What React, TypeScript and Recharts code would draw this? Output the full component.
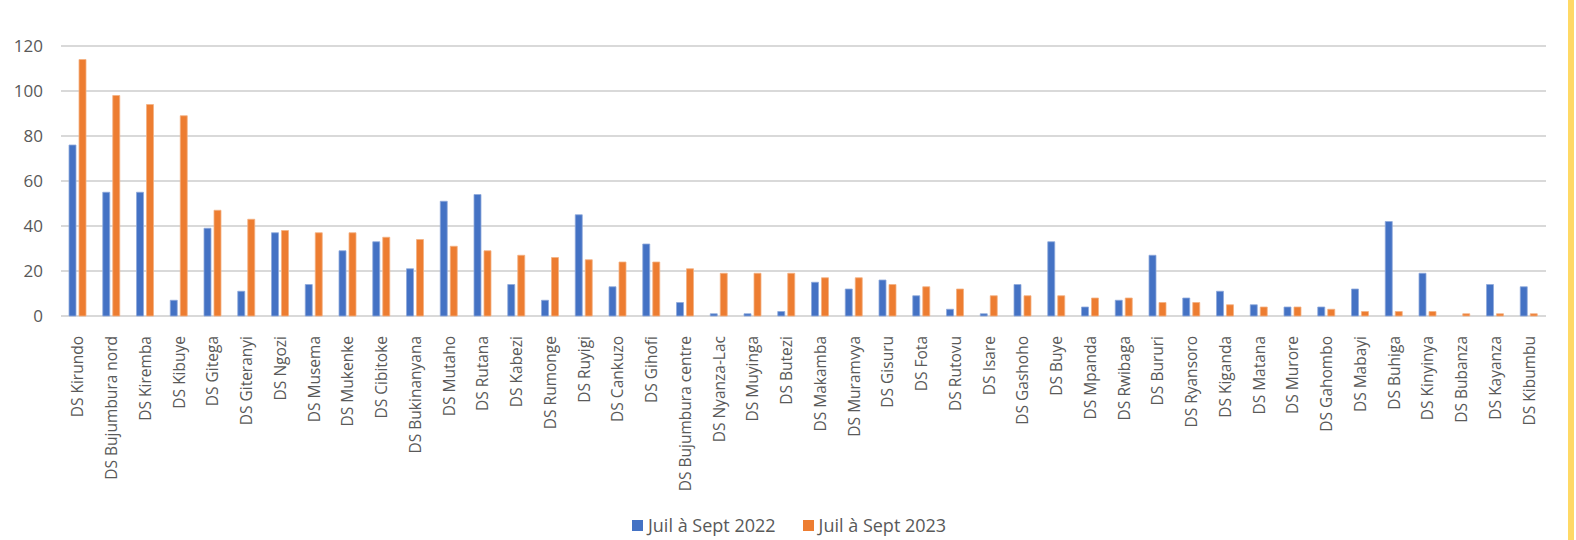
import React from "react";
import { BarChart, Bar, XAxis, YAxis, CartesianGrid, Legend } from "recharts";

const districts = [
  "DS Kirundo", "DS Bujumbura nord", "DS Kiremba", "DS Kibuye", "DS Gitega",
  "DS Giteranyi", "DS Ngozi", "DS Musema", "DS Mukenke", "DS Cibitoke",
  "DS Bukinanyana", "DS Mutaho", "DS Rutana", "DS Kabezi", "DS Rumonge",
  "DS Ruyigi", "DS Cankuzo", "DS Gihofi", "DS Bujumbura centre", "DS Nyanza-Lac",
  "DS Muyinga", "DS Butezi", "DS Makamba", "DS Muramvya", "DS Gisuru",
  "DS Fota", "DS Rutovu", "DS Isare", "DS Gashoho", "DS Buye",
  "DS Mpanda", "DS Rwibaga", "DS Bururi", "DS Ryansoro", "DS Kiganda",
  "DS Matana", "DS Murore", "DS Gahombo", "DS Mabayi", "DS Buhiga",
  "DS Kinyinya", "DS Bubanza", "DS Kayanza", "DS Kibumbu",
];

const juilSept2022 = [
  76, 55, 55, 7, 39, 11, 37, 14, 29, 33,
  21, 51, 54, 14, 7, 45, 13, 32, 6, 1,
  1, 2, 15, 12, 16, 9, 3, 1, 14, 33,
  4, 7, 27, 8, 11, 5, 4, 4, 12, 42,
  19, 0, 14, 13,
];

const juilSept2023 = [
  114, 98, 94, 89, 47, 43, 38, 37, 37, 35,
  34, 31, 29, 27, 26, 25, 24, 24, 21, 19,
  19, 19, 17, 17, 14, 13, 12, 9, 9, 9,
  8, 8, 6, 6, 5, 4, 4, 3, 2, 2,
  2, 1, 1, 1,
];

const yTicks = [0, 20, 40, 60, 80, 100, 120];

const seriesNames = ["Juil à Sept 2022", "Juil à Sept 2023"];
const BLUE = "#4472C4";
const ORANGE = "#ED7D31";
const TEXT = "#595959";
const FONT = "'Open Sans', 'Noto Sans', sans-serif";

const data = districts.map((name, i) => ({
  name,
  y2022: juilSept2022[i],
  y2023: juilSept2023[i],
}));

// District names, rotated to read bottom-to-top, ending just under the baseline
const DistrictTick = (props: any) => {
  const { x, y, payload } = props;
  return (
    <text
      x={x}
      y={y + 12}
      transform={`rotate(-90, ${x}, ${y + 12})`}
      textAnchor="end"
      dy="0.36em"
      fill={TEXT}
      fontSize={15.5}
      fontWeight={500}
      fontFamily={FONT}
    >
      {payload.value}
    </text>
  );
};

const LegendContent = () => {
  const items = [
    { label: seriesNames[0], color: BLUE },
    { label: seriesNames[1], color: ORANGE },
  ];
  return (
    <div style={{ display: "flex", alignItems: "center", height: 20, fontFamily: FONT }}>
      {items.map((it, i) => (
        <div key={it.label} style={{ display: "flex", alignItems: "center", marginRight: i === 0 ? 27 : 0 }}>
          <span style={{ display: "inline-block", width: 11, height: 11, background: it.color, marginRight: 5 }} />
          <span style={{ fontSize: 18, fontWeight: 500, color: TEXT, lineHeight: "20px" }}>{it.label}</span>
        </div>
      ))}
    </div>
  );
};

export default function App() {
  return (
    <div style={{ position: "absolute", left: 0, top: 0, width: 1576, height: 540, background: "#fff", overflow: "hidden" }}>
      <BarChart
        width={1576}
        height={540}
        data={data}
        margin={{ top: 46, right: 30, left: 0, bottom: 8 }}
        barGap={3}
        barSize={7}
      >
        <CartesianGrid vertical={false} stroke="#D9D9D9" strokeWidth={2} />
        <XAxis
          dataKey="name"
          interval={0}
          height={196}
          axisLine={false}
          tickLine={false}
          tick={<DistrictTick />}
        />
        <YAxis
          width={61}
          domain={[0, 120]}
          ticks={yTicks}
          axisLine={false}
          tickLine={false}
          tickSize={0}
          tickMargin={18}
          tick={{ fill: TEXT, fontSize: 17, fontWeight: 500, fontFamily: FONT }}
        />
        <Legend
          verticalAlign="bottom"
          content={<LegendContent />}
          wrapperStyle={{ left: 632, width: 360, height: 20, bottom: 5 }}
        />
        <Bar dataKey="y2022" name={seriesNames[0]} fill={BLUE} stroke="#8FAADC" strokeWidth={0.8} isAnimationActive={false} />
        <Bar dataKey="y2023" name={seriesNames[1]} fill={ORANGE} stroke="#F4B183" strokeWidth={0.8} isAnimationActive={false} />
      </BarChart>
      <div style={{ position: "absolute", left: 1568, top: 0, width: 6, height: 540, background: "#FFD966" }} />
    </div>
  );
}
